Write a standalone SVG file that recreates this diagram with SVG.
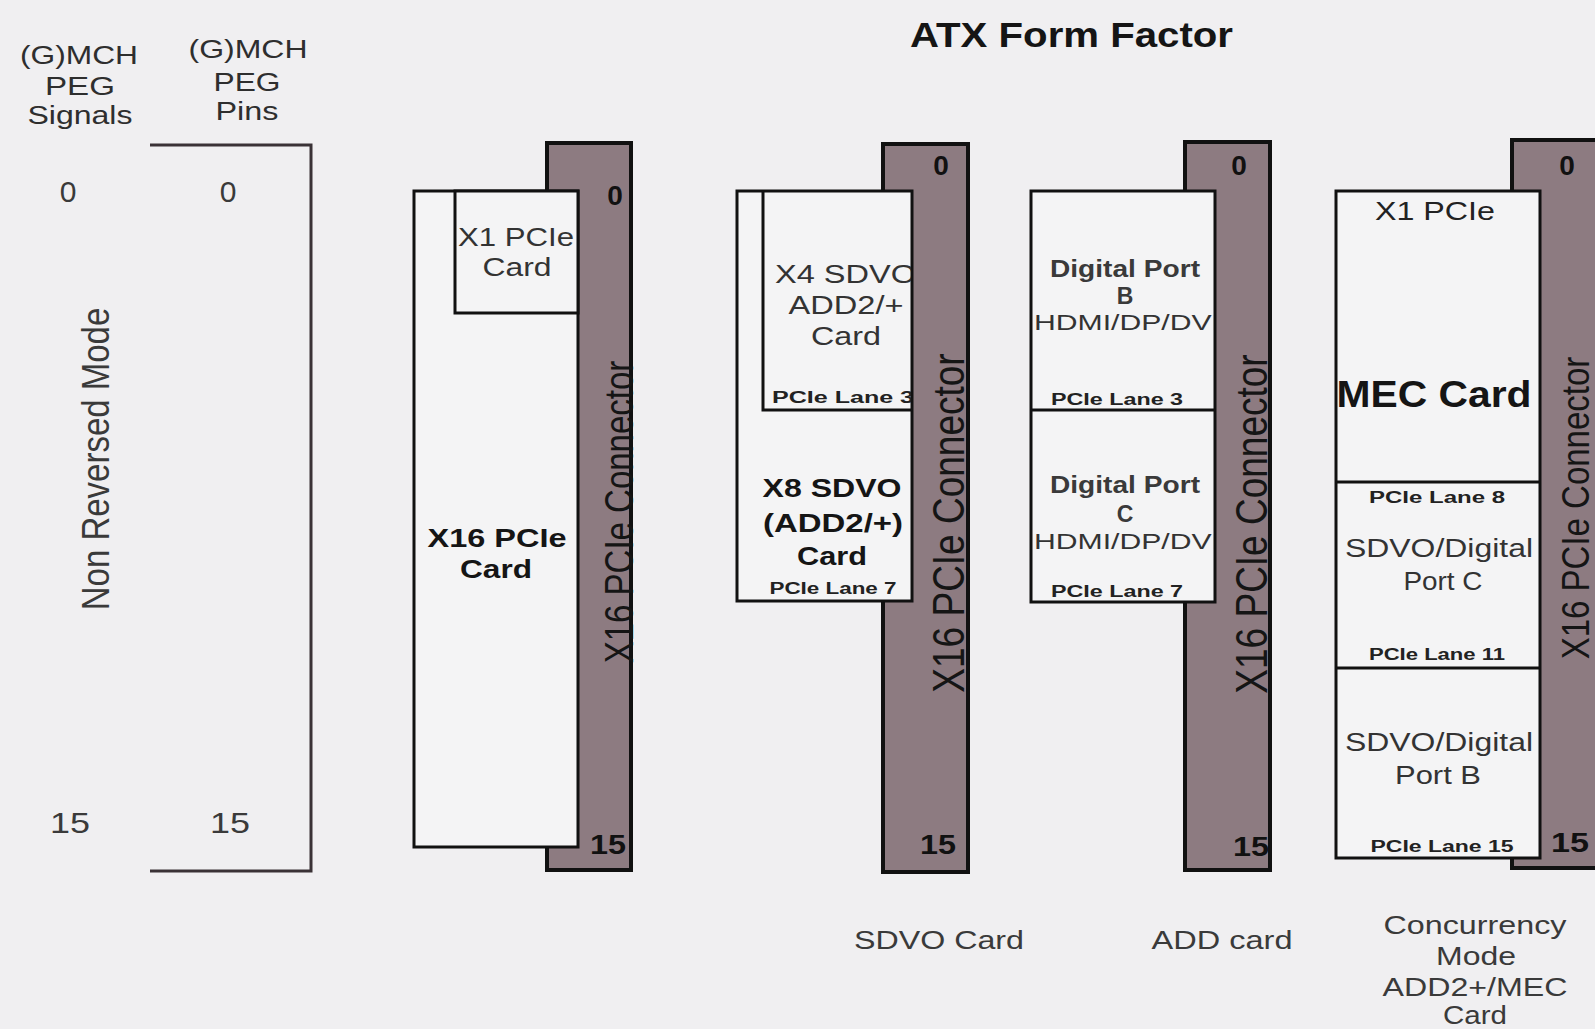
<svg xmlns="http://www.w3.org/2000/svg" width="1595" height="1029" viewBox="0 0 1595 1029">
<style>
text{font-family:"Liberation Sans",Arial,sans-serif;fill:#333}
.b{font-weight:bold;fill:#151515}
.hd{font-size:25px;fill:#2e2e2e}
.num{font-size:30px;fill:#3a3a3a}
.cn{font-size:28px;font-weight:bold;fill:#111}
.conn{fill:#8d7b81;stroke:#111;stroke-width:4}
.card{fill:#f4f4f5;stroke:#111;stroke-width:3}
.ln{stroke:#111;stroke-width:3;fill:none}
.lbl{font-size:33px;fill:#151515}
.sm{font-size:16px;font-weight:bold;fill:#222}
.md{font-size:25px}
.bt{font-size:25px;fill:#3a3a3a}
</style>
<defs>
<clipPath id="cX1"><rect x="455" y="191" width="123" height="122"/></clipPath>
<clipPath id="cX4"><rect x="763" y="191" width="148" height="219"/></clipPath>
<clipPath id="cADD"><rect x="1031" y="191" width="183" height="411"/></clipPath>
</defs>
<rect x="0" y="0" width="1595" height="1029" fill="#f0eff1"/>

<g id="title">
<text class="b" x="910" y="47" font-size="35" textLength="323" lengthAdjust="spacingAndGlyphs">ATX Form Factor</text>
</g>

<g id="left-axis">
<text class="hd" x="79" y="64" text-anchor="middle" textLength="118" lengthAdjust="spacingAndGlyphs">(G)MCH</text>
<text class="hd" x="80" y="95" text-anchor="middle" textLength="70" lengthAdjust="spacingAndGlyphs">PEG</text>
<text class="hd" x="80" y="124" text-anchor="middle" textLength="105" lengthAdjust="spacingAndGlyphs">Signals</text>
<text class="hd" x="248" y="58" text-anchor="middle" textLength="119" lengthAdjust="spacingAndGlyphs">(G)MCH</text>
<text class="hd" x="247" y="91" text-anchor="middle" textLength="67" lengthAdjust="spacingAndGlyphs">PEG</text>
<text class="hd" x="247" y="120" text-anchor="middle" textLength="63" lengthAdjust="spacingAndGlyphs">Pins</text>
<text class="num" x="68" y="202" text-anchor="middle">0</text>
<text class="num" x="228" y="202" text-anchor="middle">0</text>
<text class="num" x="70" y="833" text-anchor="middle" textLength="40" lengthAdjust="spacingAndGlyphs">15</text>
<text class="num" x="230" y="833" text-anchor="middle" textLength="40" lengthAdjust="spacingAndGlyphs">15</text>
<path d="M150 145 H311 V871 H150" fill="none" stroke="#3a3236" stroke-width="3"/>
<text class="lbl" transform="translate(95,459) scale(1.2,1) rotate(-90)" x="0" y="12" text-anchor="middle" style="fill:#3a3a3a">Non Reversed Mode</text>
</g>

<g id="x16-card">
<rect class="conn" x="547" y="143" width="84" height="727"/>
<rect class="card" x="414" y="191" width="164" height="656"/>
<rect class="card" x="455" y="191" width="123" height="122"/>
<g clip-path="url(#cX1)">
<text class="md" x="458" y="246" textLength="116" lengthAdjust="spacingAndGlyphs">X1 PCIe</text>
</g>
<text class="md" x="517" y="276" text-anchor="middle" textLength="69" lengthAdjust="spacingAndGlyphs">Card</text>
<text class="md b" x="497" y="547" text-anchor="middle" textLength="139" lengthAdjust="spacingAndGlyphs">X16 PCIe</text>
<text class="md b" x="496" y="578" text-anchor="middle" textLength="72" lengthAdjust="spacingAndGlyphs">Card</text>
<text class="cn" x="615" y="205" text-anchor="middle">0</text>
<text class="cn" x="608" y="854" text-anchor="middle" textLength="36" lengthAdjust="spacingAndGlyphs">15</text>
<text class="lbl" transform="translate(618,512) scale(1.25,1) rotate(-90)" x="0" y="12" text-anchor="middle">X16 PCIe Connector</text>
</g>

<g id="sdvo-card">
<rect class="conn" x="883" y="144" width="85" height="728"/>
<rect class="card" x="737" y="191" width="175" height="410"/>
<path class="ln" d="M763 191 V410 H912"/>
<g clip-path="url(#cX4)">
<text class="md" x="775" y="283" textLength="141" lengthAdjust="spacingAndGlyphs">X4 SDVO</text>
<text class="sm" x="772" y="403" textLength="142" lengthAdjust="spacingAndGlyphs">PCIe Lane 3</text>
</g>
<text class="md" x="846" y="314" text-anchor="middle" textLength="115" lengthAdjust="spacingAndGlyphs">ADD2/+</text>
<text class="md" x="846" y="345" text-anchor="middle" textLength="70" lengthAdjust="spacingAndGlyphs">Card</text>
<text class="md b" x="832" y="497" text-anchor="middle" textLength="139" lengthAdjust="spacingAndGlyphs">X8 SDVO</text>
<text class="md b" x="833" y="532" text-anchor="middle" textLength="140" lengthAdjust="spacingAndGlyphs">(ADD2/+)</text>
<text class="md b" x="832" y="565" text-anchor="middle" textLength="70" lengthAdjust="spacingAndGlyphs">Card</text>
<text class="sm" x="833" y="594" text-anchor="middle" textLength="127" lengthAdjust="spacingAndGlyphs">PCIe Lane 7</text>
<text class="cn" x="941" y="175" text-anchor="middle">0</text>
<text class="cn" x="938" y="854" text-anchor="middle" textLength="36" lengthAdjust="spacingAndGlyphs">15</text>
<text class="lbl" transform="translate(950,523) scale(1.2,1) rotate(-90)" x="0" y="12" text-anchor="middle" style="font-size:37px">X16 PCIe Connector</text>
</g>

<g id="add-card">
<rect class="conn" x="1185" y="142" width="85" height="728"/>
<rect class="card" x="1031" y="191" width="184" height="411"/>
<line class="ln" x1="1031" y1="410" x2="1215" y2="410"/>
<g clip-path="url(#cADD)">
<text class="b" x="1125" y="277" font-size="23" text-anchor="middle" textLength="150" lengthAdjust="spacingAndGlyphs" style="fill:#3a3a3a">Digital Port</text>
<text class="b" x="1125" y="304" font-size="23" text-anchor="middle" style="fill:#3a3a3a">B</text>
<text x="1034" y="330" font-size="22" textLength="186" lengthAdjust="spacingAndGlyphs">HDMI/DP/DVI</text>
<text class="sm" x="1117" y="405" text-anchor="middle" textLength="132" lengthAdjust="spacingAndGlyphs">PCIe Lane 3</text>
<text class="b" x="1125" y="493" font-size="23" text-anchor="middle" textLength="150" lengthAdjust="spacingAndGlyphs" style="fill:#3a3a3a">Digital Port</text>
<text class="b" x="1125" y="522" font-size="23" text-anchor="middle" style="fill:#3a3a3a">C</text>
<text x="1034" y="549" font-size="22" textLength="186" lengthAdjust="spacingAndGlyphs">HDMI/DP/DVI</text>
<text class="sm" x="1117" y="597" text-anchor="middle" textLength="132" lengthAdjust="spacingAndGlyphs">PCIe Lane 7</text>
</g>
<text class="cn" x="1239" y="175" text-anchor="middle">0</text>
<text class="cn" x="1251" y="856" text-anchor="middle" textLength="36" lengthAdjust="spacingAndGlyphs">15</text>
<text class="lbl" transform="translate(1253,524) scale(1.2,1) rotate(-90)" x="0" y="12" text-anchor="middle" style="font-size:37px">X16 PCIe Connector</text>
</g>

<g id="mec-card">
<rect class="conn" x="1512" y="140" width="90" height="728"/>
<rect class="card" x="1336" y="191" width="204" height="667"/>
<line class="ln" x1="1336" y1="482" x2="1540" y2="482"/>
<line class="ln" x1="1336" y1="668" x2="1540" y2="668"/>
<text class="md" x="1435" y="220" text-anchor="middle" textLength="120" lengthAdjust="spacingAndGlyphs" style="fill:#222">X1 PCIe</text>
<text class="b" x="1434" y="407" font-size="36" text-anchor="middle" textLength="195" lengthAdjust="spacingAndGlyphs">MEC Card</text>
<text class="sm" x="1437" y="503" text-anchor="middle" textLength="136" lengthAdjust="spacingAndGlyphs">PCIe Lane 8</text>
<text class="md" x="1439" y="557" text-anchor="middle" textLength="188" lengthAdjust="spacingAndGlyphs">SDVO/Digital</text>
<text class="md" x="1443" y="590" text-anchor="middle" textLength="79" lengthAdjust="spacingAndGlyphs">Port C</text>
<text class="sm" x="1437" y="660" text-anchor="middle" textLength="136" lengthAdjust="spacingAndGlyphs">PCIe Lane 11</text>
<text class="md" x="1439" y="751" text-anchor="middle" textLength="188" lengthAdjust="spacingAndGlyphs">SDVO/Digital</text>
<text class="md" x="1438" y="784" text-anchor="middle" textLength="86" lengthAdjust="spacingAndGlyphs">Port B</text>
<text class="sm" x="1442" y="852" text-anchor="middle" textLength="143" lengthAdjust="spacingAndGlyphs">PCIe Lane 15</text>
<text class="cn" x="1567" y="175" text-anchor="middle">0</text>
<text class="cn" x="1570" y="852" text-anchor="middle" textLength="38" lengthAdjust="spacingAndGlyphs">15</text>
<text class="lbl" transform="translate(1575,508) scale(1.15,1) rotate(-90)" x="0" y="12" text-anchor="middle">X16 PCIe Connector</text>
</g>

<g id="captions">
<text class="bt" x="939" y="949" text-anchor="middle" textLength="170" lengthAdjust="spacingAndGlyphs">SDVO Card</text>
<text class="bt" x="1222" y="949" text-anchor="middle" textLength="141" lengthAdjust="spacingAndGlyphs">ADD card</text>
<text class="bt" x="1475" y="934" text-anchor="middle" textLength="183" lengthAdjust="spacingAndGlyphs">Concurrency</text>
<text class="bt" x="1476" y="965" text-anchor="middle" textLength="80" lengthAdjust="spacingAndGlyphs">Mode</text>
<text class="bt" x="1475" y="996" text-anchor="middle" textLength="185" lengthAdjust="spacingAndGlyphs">ADD2+/MEC</text>
<text class="bt" x="1475" y="1024" text-anchor="middle" textLength="64" lengthAdjust="spacingAndGlyphs">Card</text>
</g>
<g id="connectors"></g>
</svg>
